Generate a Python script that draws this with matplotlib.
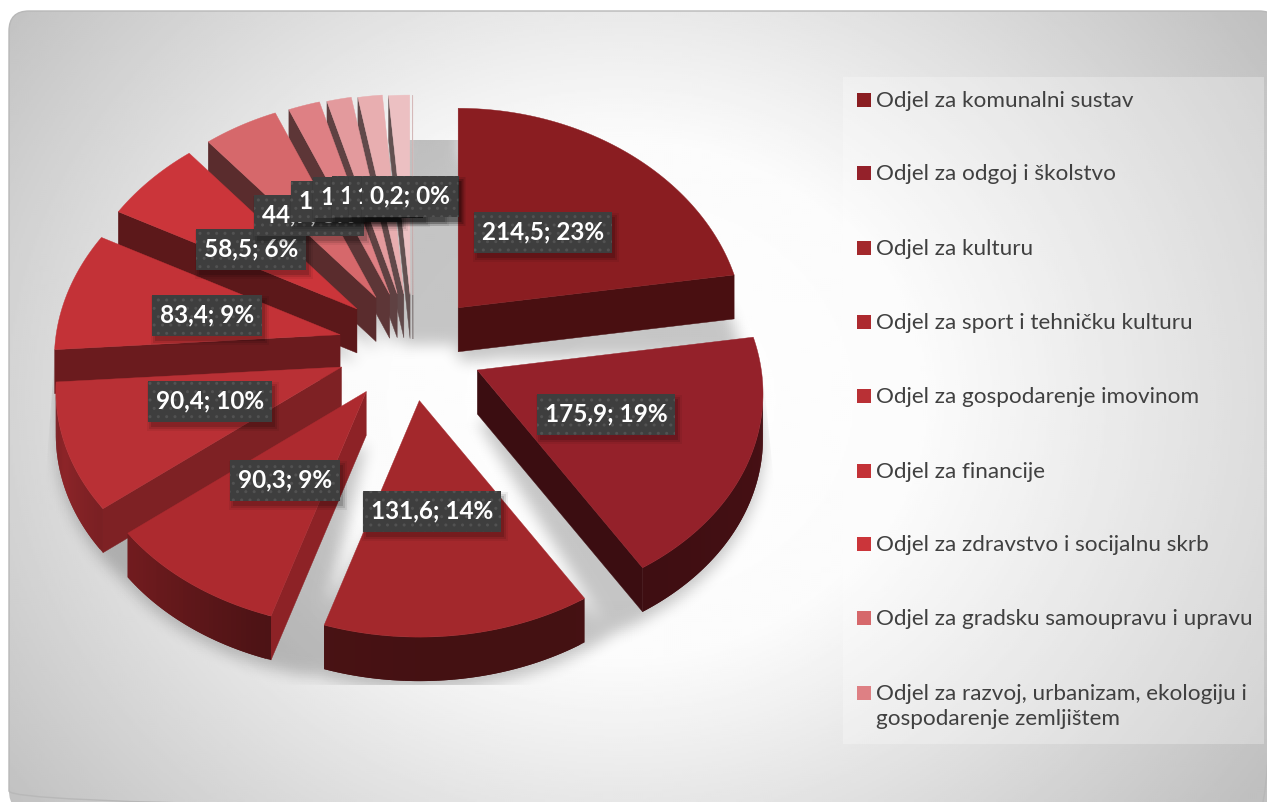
import numpy as np
import matplotlib
matplotlib.use("Agg")
import matplotlib.pyplot as plt
from matplotlib.patches import FancyBboxPatch, Polygon, Rectangle
from matplotlib.path import Path

# chart data
categories = ["Odjel za komunalni sustav", "Odjel za odgoj i školstvo", "Odjel za kulturu",
              "Odjel za sport i tehničku kulturu", "Odjel za gospodarenje imovinom",
              "Odjel za financije", "Odjel za zdravstvo i socijalnu skrb",
              "Odjel za gradsku samoupravu i upravu",
              "Odjel za razvoj, urbanizam, ekologiju i\ngospodarenje zemljištem"]
values = [214.5, 175.9, 131.6, 90.3, 90.4, 83.4, 58.5, 44.7, 19.0, 14.8, 14.7, 12.7, 0.2]
colors = ["#8a1d21", "#94212a", "#a3282c", "#ad2a2f", "#b93035", "#c33237", "#cb353a",
          "#d6686b", "#de8084", "#e39a9d", "#e8aeb0", "#ecc0c2", "#f0d0d0"]

# label box centres, pixels
label_xy = [(543, 233), (606, 415), (432, 512), (285, 481), (210, 402), (207, 316), (251, 250),
            (309, 216), (346, 202), (368, 198), (387, 197), (404, 197), (410, 197)]
legend_y = [100, 173, 248, 322, 396, 471, 544, 618, 693]

# pie projection
CX, CY = 405, 349
RX, RY = 284, 218
PERSP_X, PERSP_Y = 0.11, 0.085
DEPTH = 44


def project(cx, cy, t):
    t = np.radians(t)
    return (cx + RX * (1 - PERSP_X * np.cos(t)) * np.sin(t),
            cy - RY * (1 - PERSP_Y * np.cos(t)) * np.cos(t))


def tip_of(mid):
    sn, cs = np.sin(np.radians(mid)), np.cos(np.radians(mid))
    if sn >= 0:
        return 410 + 74 * sn, CY - 53 * cs
    return CX + 68 * sn + 8 * max(cs, 0), CY - 53 * cs - 12 * (-sn) * max(cs, 0)


def shade(c, f):
    return tuple(np.array(matplotlib.colors.to_rgb(c)) * f)


def arc_shade(t):
    return np.interp(t, [80, 150, 180, 200, 225, 250, 270, 300], [.5, .42, .42, .45, .62, .76, .6, .45])


def edge_shade(t):
    return np.interp(t, [80, 148, 198, 232, 266, 298, 320], [.53, .4, .82, .68, .55, .45, .42])


fig = plt.figure(figsize=(12.67, 8.03), dpi=100)
ax = fig.add_axes([0, 0, 1, 1])

# background panel with radial gradient
yy, xx = np.mgrid[0:803:2, 0:1267:2]
dist = np.hypot(xx - 620, (yy - 400) * 1.15)
bg = np.interp(dist, [0, 300, 780], [1.0, .985, .75])
panel = FancyBboxPatch((9, 12), 1270, 800, boxstyle="round,pad=0,rounding_size=20",
                       facecolor="none", edgecolor="#b8b8b8", lw=1, zorder=4)
ax.add_patch(panel)
im = ax.imshow(bg, cmap="gray", vmin=0, vmax=1, extent=(0, 1267, 803, 0), aspect="auto", zorder=0)
im.set_clip_path(panel)

# angles from the values
fracs = np.array(values) / np.sum(values)
ends = np.cumsum(fracs) * 360
starts = ends - fracs * 360
mids = (starts + ends) / 2

# floor shadow, blurred wedges shifted down, filled across the gaps, clipped to the plot area
pts = np.column_stack([xx.ravel(), yy.ravel()])
mask = np.zeros(xx.shape)
for a, b, m in zip(starts, ends, mids):
    tx, ty = tip_of(m)
    ts = np.linspace(a - 7, b + 7, 40)
    px, py = project(tx, ty, ts)
    poly = np.column_stack([np.r_[tx, px], np.r_[ty, py] + DEPTH + 8])
    mask = np.maximum(mask, Path(poly).contains_points(pts).reshape(xx.shape))
mask[(xx > 400) & (xx < 462) & (yy > 120) & (yy < 345)] = 1
mask[((xx - 392) / 48) ** 2 + ((yy - 385) / 36) ** 2 < 1] = 0
blur = mask.astype(float)
kernel = np.ones(7) / 7
for _ in range(3):
    blur = np.apply_along_axis(lambda r: np.convolve(r, kernel, mode="same"), 0, blur)
    blur = np.apply_along_axis(lambda r: np.convolve(r, kernel, mode="same"), 1, blur)
rgba = np.zeros(xx.shape + (4,))
rgba[..., 3] = blur * .22
sh = ax.imshow(rgba, extent=(0, 1267, 803, 0), aspect="auto", zorder=1)
shadow_clip = Polygon([(70, 141), (740, 141), (794, 686), (31, 686)], transform=ax.transData,
                      facecolor="none", edgecolor="none")
ax.add_patch(shadow_clip)
sh.set_clip_path(shadow_clip)

ax.set_xlim(0, 1267)
ax.set_ylim(803, 0)
ax.axis("off")

# wedges, back to front
order = np.argsort(-np.abs(mids - 180))
z = 5
for i in order:
    a, b, m, col = starts[i], ends[i], mids[i], colors[i]
    tx, ty = tip_of(m)
    ts = np.linspace(a, b, max(int(b - a) + 2, 2))
    px, py = project(tx, ty, ts)
    # radial walls
    for t in (a, b):
        ex, ey = project(tx, ty, t)
        ox, oy = project(tx, ty, m)
        nx, ny = -(ey - ty), ex - tx
        if nx * (ox - tx) + ny * (oy - ty) > 0:
            nx, ny = -nx, -ny
        if ny > 0:
            c = shade(col, edge_shade(t))
            ax.add_patch(Polygon([(tx, ty), (ex, ey), (ex, ey + DEPTH), (tx, ty + DEPTH)],
                                 facecolor=c, edgecolor=c, lw=.3, zorder=z))
            z += 1
    # outer wall, small overlapping pieces so the shading can run along the arc
    for k in range(len(ts) - 1):
        mx, my = (px[k] + px[k + 1]) / 2, (py[k] + py[k + 1]) / 2
        dx, dy = px[k + 1] - px[k], py[k + 1] - py[k]
        nx, ny = -dy, dx
        if nx * (mx - tx) + ny * (my - ty) < 0:
            nx, ny = -nx, -ny
        if ny > 0:
            j = min(k + 2, len(ts) - 1)
            c = shade(col, arc_shade((ts[k] + ts[k + 1]) / 2))
            quad = [(px[k], py[k])] + [(px[q], py[q]) for q in range(k + 1, j + 1)] + \
                   [(px[q], py[q] + DEPTH) for q in range(j, k - 1, -1)]
            ax.add_patch(Polygon(quad, facecolor=c, edgecolor="none", lw=0, zorder=z))
            z += 1
    z += 1
    ax.add_patch(Polygon(np.column_stack([np.r_[tx, px], np.r_[ty, py]]), facecolor=col,
                         edgecolor=col, lw=.3, zorder=z))
    z += 1

# data labels
z = 2000
renderer = fig.canvas.get_renderer()
for v, f, (lx, ly) in zip(values, fracs, label_xy):
    txt = f"{v:.1f}".replace(".", ",") + f"; {f * 100:.0f}%"
    t = ax.text(lx, ly - 1, txt, color="white", fontsize=17.5, fontweight="bold", family="Lato",
                ha="center", va="center", zorder=z + 3)
    w = t.get_window_extent(renderer).width + 16
    h = 41
    for grow, al in ((4, .06), (2, .1), (0, .14)):
        ax.add_patch(Rectangle((lx - w / 2 + 3 - grow, ly - h / 2 + 5 - grow), w + 2 * grow, h + 2 * grow,
                               facecolor="black", alpha=al, lw=0, zorder=z))
    ax.add_patch(Rectangle((lx - w / 2, ly - h / 2), w, h, facecolor="#3e3e3e", edgecolor="#525252",
                           hatch="..", lw=0, zorder=z + 1))
    z += 5

# legend
ax.add_patch(Rectangle((843, 78), 421, 667, facecolor="white", alpha=.28, lw=0, zorder=1))
for name, col, y in zip(categories, colors, legend_y):
    ax.add_patch(Rectangle((857, y - 6), 14, 14, facecolor=col, lw=0, zorder=3))
    ax.text(876, y - 9, name, color="#404040", fontsize=16.2, family="Lato", ha="left", va="top",
            linespacing=1.3, zorder=3)

fig.savefig("out.png", dpi=100)
